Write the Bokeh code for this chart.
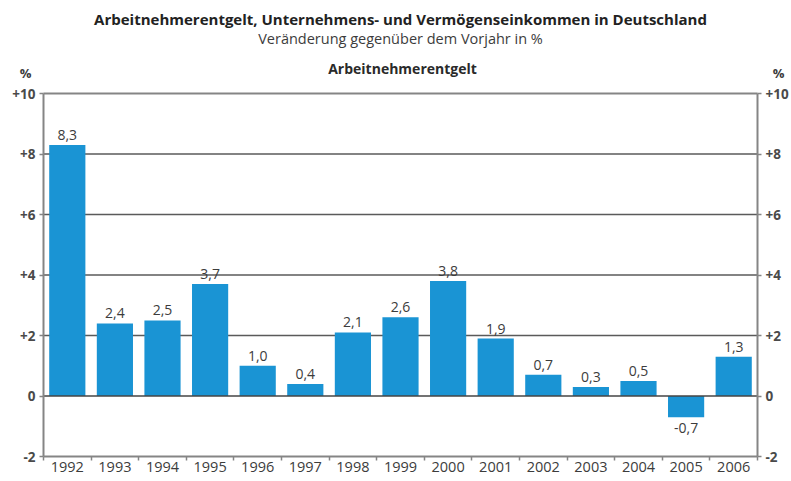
from bokeh.plotting import figure
from bokeh.models import (ColumnDataSource, Range1d, FixedTicker, LinearAxis, Label)
from bokeh.core.properties import value
from bokeh.embed import file_html
from bokeh.resources import INLINE

years = ["1992", "1993", "1994", "1995", "1996", "1997", "1998", "1999",
         "2000", "2001", "2002", "2003", "2004", "2005", "2006"]
values = [8.3, 2.4, 2.5, 3.7, 1.0, 0.4, 2.1, 2.6, 3.8, 1.9, 0.7, 0.3, 0.5, -0.7, 1.3]
y_ticks = [-2, 0, 2, 4, 6, 8, 10]
y_tick_labels = ["-2", "0", "+2", "+4", "+6", "+8", "+10"]
grid_levels = [2, 4, 6, 8]

title_main = "Arbeitnehmerentgelt, Unternehmens- und Vermögenseinkommen in Deutschland"
title_sub = "Veränderung gegenüber dem Vorjahr in %"
title_panel = "Arbeitnehmerentgelt"
unit = "%"

FONT = "Open Sans"
BAR = "#1a94d4"
TXT = "#3c3c3c"
AX = "#858585"
W, H = 791, 481

# layout of the plotting box inside the canvas (pixels)
AX_LEFT, AX_RIGHT = 43, 757      # x of left / right axis lines
AX_TOP, AX_BOTTOM = 93, 456      # y (from top) of +10 and -2 lines

n = len(years)
x_lo, x_hi = -0.5, n - 0.5
y_lo, y_hi = y_ticks[0], y_ticks[-1]
ppx = (AX_RIGHT - AX_LEFT) / (x_hi - x_lo)
ppy = (AX_BOTTOM - AX_TOP) / (y_hi - y_lo)
x_range = Range1d(x_lo - AX_LEFT / ppx, x_hi + (W - AX_RIGHT) / ppx)
y_range = Range1d(y_lo - (H - AX_BOTTOM) / ppy, y_hi + AX_TOP / ppy)

p = figure(width=W, height=H, output_backend="svg", toolbar_location=None,
           x_range=x_range, y_range=y_range,
           x_axis_location=None, y_axis_location=None, min_border=0,
           background_fill_color="white", border_fill_color="white")
p.outline_line_color = None
p.xgrid.visible = False
p.ygrid.visible = False
if p.title is not None:
    p.title.visible = False

# horizontal lines, limited to the axis box
p.segment(x0=[x_lo] * len(grid_levels), x1=[x_hi] * len(grid_levels),
          y0=grid_levels, y1=grid_levels, line_color="#5a5a5a", line_width=1.4)
p.segment(x0=[x_lo], x1=[x_hi], y0=[y_hi], y1=[y_hi], line_color=AX, line_width=2)

xs = list(range(n))
src = ColumnDataSource(dict(x=xs, top=values))
p.vbar(x="x", top="top", bottom=0, width=0.76, source=src, fill_color=BAR, line_color=None)
p.segment(x0=[x_lo], x1=[x_hi], y0=[0], y1=[0], line_color="#444444", line_width=1.6)

labels = [f"{v:.1f}".replace(".", ",") for v in values]
pos = [v >= 0 for v in values]
src_pos = ColumnDataSource(dict(x=[x for x, q in zip(xs, pos) if q],
                                y=[v for v, q in zip(values, pos) if q],
                                t=[l for l, q in zip(labels, pos) if q]))
src_neg = ColumnDataSource(dict(x=[x for x, q in zip(xs, pos) if not q],
                                y=[v for v, q in zip(values, pos) if not q],
                                t=[l for l, q in zip(labels, pos) if not q]))
p.text(x="x", y="y", text="t", source=src_pos, text_align="center", text_baseline="bottom",
       y_offset=-5, text_font=value(FONT), text_font_size="14px", text_color=TXT)
p.text(x="x", y="y", text="t", source=src_neg, text_align="center", text_baseline="top",
       y_offset=6, text_font=value(FONT), text_font_size="14px", text_color=TXT)

# axes at fixed positions
yt = FixedTicker(ticks=y_ticks)
overrides = {t: l for t, l in zip(y_ticks, y_tick_labels)}
for side, loc in [("left", x_lo), ("right", x_hi)]:
    ax = LinearAxis(ticker=yt, major_label_overrides=overrides, fixed_location=loc,
                    bounds=(y_lo, y_hi))
    ax.axis_line_color = AX
    ax.axis_line_width = 2
    ax.major_tick_line_color = AX
    ax.major_tick_line_width = 1.5
    ax.major_tick_out = 4
    ax.major_tick_in = 0
    ax.minor_tick_out = 0
    ax.minor_tick_line_color = None
    ax.major_label_text_font = FONT
    ax.major_label_text_font_size = "13.5px"
    ax.major_label_text_font_style = "bold"
    ax.major_label_text_color = "#4a4a4a"
    ax.major_label_standoff = 4
    p.add_layout(ax, side)

xt = FixedTicker(ticks=xs, minor_ticks=[x - 0.5 for x in xs] + [x_hi])
xax = LinearAxis(ticker=xt, major_label_overrides={x: y for x, y in zip(xs, years)},
                 fixed_location=y_lo, bounds=(x_lo, x_hi))
xax.axis_line_color = AX
xax.axis_line_width = 2
xax.major_tick_line_color = None
xax.major_tick_out = 0
xax.major_tick_in = 0
xax.minor_tick_line_color = AX
xax.minor_tick_line_width = 1.5
xax.minor_tick_out = 4
xax.minor_tick_in = 0
xax.major_label_text_font = FONT
xax.major_label_text_font_size = "14.5px"
xax.major_label_text_color = TXT
xax.major_label_standoff = 1
p.add_layout(xax, "below")

# titles (screen units: pixels from the canvas' bottom-left)
def lab(text, x, y_top, size, bold, color=TXT):
    p.add_layout(Label(x=x, y=H - y_top, x_units="screen", y_units="screen", text=text,
                       text_align="center", text_baseline="middle", text_font=FONT,
                       text_font_size=size, text_font_style="bold" if bold else "normal",
                       text_color=color))

lab(title_main, 400, 18, "15px", True, "#222222")
lab(title_sub, 400, 38, "14.5px", False)
lab(title_panel, 402, 68, "14px", True, "#2a2a2a")
lab(unit, 25, 72, "13px", True)
lab(unit, 778, 72, "13px", True)

open("out.html", "w").write(file_html(p, INLINE))
